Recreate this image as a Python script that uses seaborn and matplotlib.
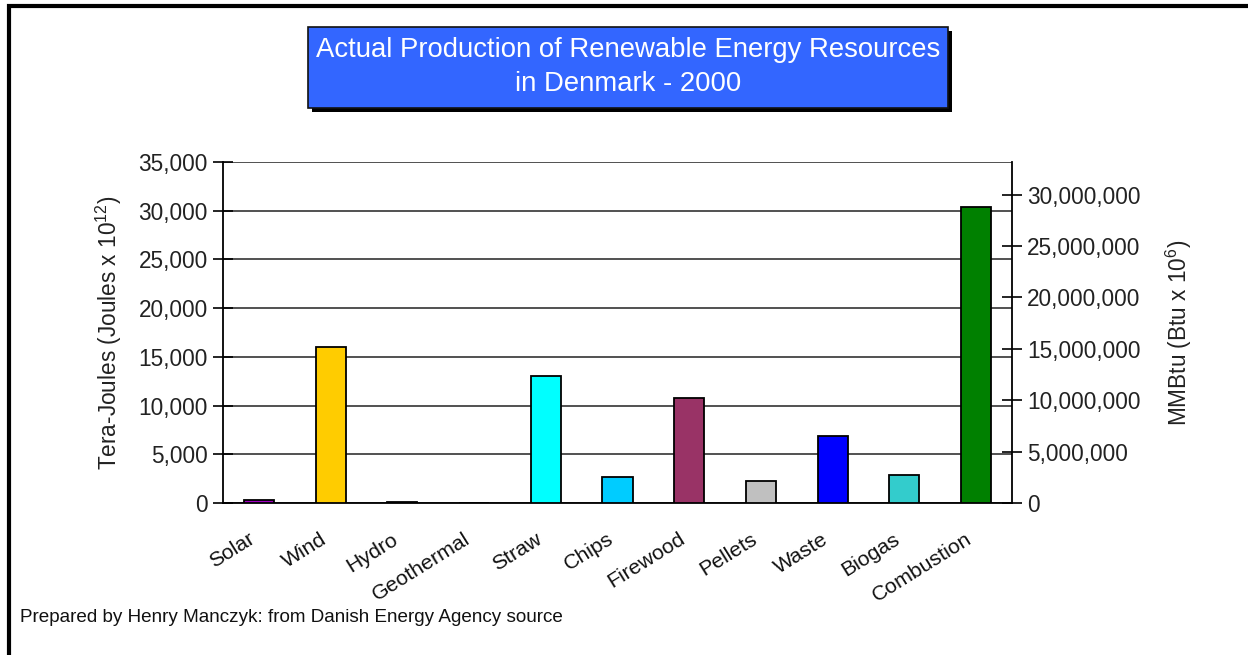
import matplotlib
matplotlib.use("Agg")
import matplotlib.pyplot as plt
from matplotlib.patches import Rectangle
from matplotlib.ticker import FuncFormatter
from matplotlib.transforms import ScaledTranslation
import seaborn as sns
import pandas as pd

# Renewable energy production, Denmark 2000 (TJ)
categories = ["Solar", "Wind", "Hydro", "Geothermal", "Straw", "Chips",
              "Firewood", "Pellets", "Waste", "Biogas", "Combustion"]
terajoules = [300, 16000, 100, 0, 13000, 2670, 10800, 2250, 6900, 2900, 30400]
bar_colors = ["#A000C0", "#FFCC00", "#333366", "#808080", "#00FFFF", "#00CCFF",
              "#993366", "#C0C0C0", "#0000FF", "#33CCCC", "#008000"]

left_ticks = [0, 5000, 10000, 15000, 20000, 25000, 30000, 35000]
right_ticks = [0, 5_000_000, 10_000_000, 15_000_000, 20_000_000, 25_000_000, 30_000_000]
MMBTU_PER_TJ = 947.817

title_lines = ["Actual Production of Renewable Energy Resources", "in Denmark - 2000"]
footer = "Prepared by Henry Manczyk: from Danish Energy Agency source"

sns.set_style("white")
plt.rcParams["font.family"] = ["Liberation Sans", "DejaVu Sans"]
plt.rcParams["mathtext.fontset"] = "custom"
plt.rcParams["mathtext.rm"] = "Liberation Sans"
plt.rcParams["mathtext.it"] = "Liberation Sans"

W, H = 1248, 655
FS = 16.3
fig = plt.figure(figsize=(W / 100, H / 100), dpi=100)
fig.patch.set_facecolor("white")


def px(x0, y0, x1, y1):
    """Pixel box (top-left origin) -> figure fraction rect."""
    return [x0 / W, 1 - y1 / H, (x1 - x0) / W, (y1 - y0) / H]


ax = fig.add_axes(px(223, 162, 1012, 503))
df = pd.DataFrame({"source": categories, "tj": terajoules})
sns.barplot(data=df, x="source", y="tj", hue="source", palette=bar_colors,
            legend=False, width=0.42, edgecolor="black", linewidth=1.3,
            saturation=1, ax=ax, zorder=3)

ax.set_xlim(-0.5, len(categories) - 0.5)
ax.set_ylim(0, 35000)
ax.set_yticks(left_ticks)
ax.yaxis.set_major_formatter(FuncFormatter(lambda v, p: f"{int(v):,}"))
ax.grid(axis="y", color="#222222", linewidth=1.1, zorder=0)
ax.set_axisbelow(True)
for side in ["top", "right"]:
    ax.spines[side].set_visible(False)
for side in ["left", "bottom"]:
    ax.spines[side].set_color("black")
    ax.spines[side].set_linewidth(1.3)

ax.tick_params(axis="y", direction="inout", length=14, width=1.2,
               labelsize=FS, pad=4, colors="black", labelcolor="#222222")
# category boundaries carry the tick marks
ax.set_xticks([i - 0.5 for i in range(len(categories) + 1)], minor=False)
ax.set_xticklabels([""] * (len(categories) + 1))
ax.tick_params(axis="x", which="major", direction="out", length=7, width=1.2,
               colors="black")
ax.set_xticks(range(len(categories)), minor=True)
ax.set_xticklabels(categories, minor=True, rotation=32, ha="right",
                   va="top", rotation_mode="anchor", fontsize=15.3)
ax.tick_params(axis="x", which="minor", length=0, pad=19, labelcolor="#111111")
shift = ScaledTranslation(-0.11, 0, fig.dpi_scale_trans)
for lbl in ax.get_xticklabels(minor=True):
    lbl.set_transform(lbl.get_transform() + shift)
ax.set_xlabel("")
ax.set_ylabel("Tera-Joules (Joules x 10$^{12}$)", fontsize=FS, color="#222222")
ax.yaxis.set_label_coords(-0.125, 0.5)

# secondary scale in MMBtu
ax2 = ax.twinx()
ax2.set_ylim(0, 35000 * MMBTU_PER_TJ)
ax2.set_yticks(right_ticks)
ax2.yaxis.set_major_formatter(FuncFormatter(lambda v, p: f"{int(v):,}"))
for side in ["top", "left", "bottom"]:
    ax2.spines[side].set_visible(False)
ax2.spines["right"].set_color("black")
ax2.spines["right"].set_linewidth(1.3)
ax2.tick_params(axis="y", direction="inout", length=14, width=1.2,
                labelsize=FS, pad=4, colors="black", labelcolor="#222222")
ax2.set_ylabel("MMBtu (Btu x 10$^{6}$)", fontsize=FS, color="#222222")
ax2.yaxis.set_label_coords(1.193, 0.5)
ax2.grid(False)

# title box with drop shadow
fig.patches.append(Rectangle((312 / W, 1 - 112 / H), 640 / W, 81 / H,
                             transform=fig.transFigure, facecolor="black",
                             edgecolor="none", zorder=1))
fig.patches.append(Rectangle((308 / W, 1 - 108 / H), 640 / W, 81 / H,
                             transform=fig.transFigure, facecolor="#3366FF",
                             edgecolor="#111111", linewidth=1.2, zorder=2))
fig.text(628 / W, 1 - 50 / H, title_lines[0], ha="center", va="center",
         color="white", fontsize=19.8, zorder=3)
fig.text(628 / W, 1 - 84 / H, title_lines[1], ha="center", va="center",
         color="white", fontsize=19.8, zorder=3)

fig.text(20 / W, 1 - 617 / H, footer, ha="left", va="center", fontsize=13.6,
         color="#111111")

# outer frame (top and left edges visible)
fig.patches.append(Rectangle((8.5 / W, -0.1), 1.2, 1 - 5.5 / H + 0.1,
                             transform=fig.transFigure, fill=False,
                             edgecolor="black", linewidth=3, zorder=0))

fig.savefig("out.png", dpi=100, facecolor="white")
